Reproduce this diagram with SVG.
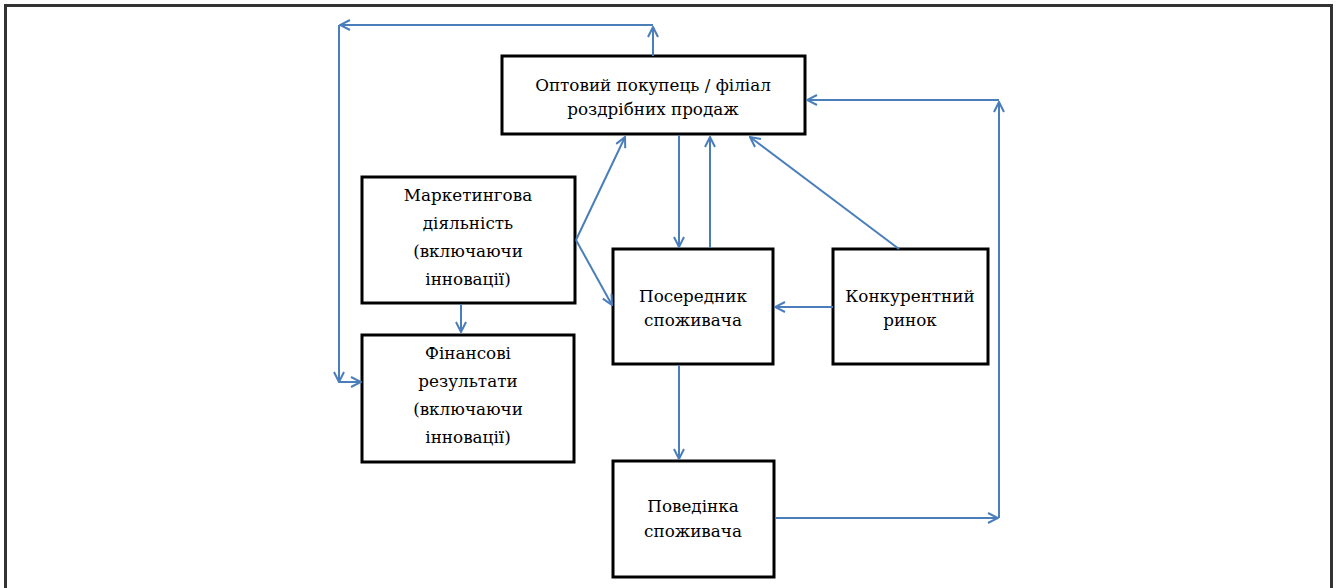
<svg xmlns="http://www.w3.org/2000/svg" width="1336" height="588" viewBox="0 0 1336 588">
<defs>
<marker id="arr" viewBox="0 0 12 12" refX="11" refY="6" markerWidth="12" markerHeight="12" markerUnits="userSpaceOnUse" orient="auto">
<path d="M1,1 L11,6 L1,11" fill="none" stroke="#4a7ebb" stroke-width="2"/>
</marker>
<style>
.box{fill:#fff;stroke:#000;stroke-width:3}
.c{fill:none;stroke:#4a7ebb;stroke-width:2;marker-end:url(#arr)}
</style>
</defs>
<rect width="1336" height="588" fill="#fff"/>
<path d="M5.5,588 V5.5 H1331.5 V588" fill="none" stroke="#333" stroke-width="3"/>
<g font-family="'DejaVu Serif', serif" font-size="16.8" text-anchor="middle" fill="#000">
<g id="wholesale">
<rect class="box" x="502" y="56" width="303" height="78"/>
<text x="653" y="91">Оптовий покупець / філіал</text>
<text x="653" y="115">роздрібних продаж</text>
</g>
<g id="marketing">
<rect class="box" x="362" y="177" width="213" height="126"/>
<text x="468" y="201">Маркетингова</text>
<text x="468" y="229">діяльність</text>
<text x="468" y="257">(включаючи</text>
<text x="468" y="285">інновації)</text>
</g>
<g id="financial">
<rect class="box" x="362" y="335" width="212" height="127"/>
<text x="468" y="359">Фінансові</text>
<text x="468" y="387">результати</text>
<text x="468" y="415">(включаючи</text>
<text x="468" y="443">інновації)</text>
</g>
<g id="intermediary">
<rect class="box" x="613" y="249" width="160" height="115"/>
<text x="693" y="302">Посередник</text>
<text x="693" y="326">споживача</text>
</g>
<g id="competitive">
<rect class="box" x="833" y="249" width="155" height="115"/>
<text x="910" y="302">Конкурентний</text>
<text x="910" y="326">ринок</text>
</g>
<g id="behavior">
<rect class="box" x="613" y="461" width="161" height="116"/>
<text x="693" y="512">Поведінка</text>
<text x="693" y="537">споживача</text>
</g>
</g>
<g id="connectors">
<path class="c" d="M653,56 V27"/>
<path class="c" d="M653,25 H340"/>
<path class="c" d="M339,25 V382"/>
<path class="c" d="M339,382 H361"/>
<path class="c" d="M576,240 L625,137"/>
<path class="c" d="M576,240 L612,305"/>
<path class="c" d="M679,135 V247"/>
<path class="c" d="M710,248 V137"/>
<path class="c" d="M899,249 L750,137"/>
<path class="c" d="M833,307 H775"/>
<path class="c" d="M679,365 V459"/>
<path class="c" d="M461,304 V332"/>
<path class="c" d="M775,518 H998"/>
<path class="c" d="M999,518 V102"/>
<path class="c" d="M999,100 H807"/>
</g>
</svg>
